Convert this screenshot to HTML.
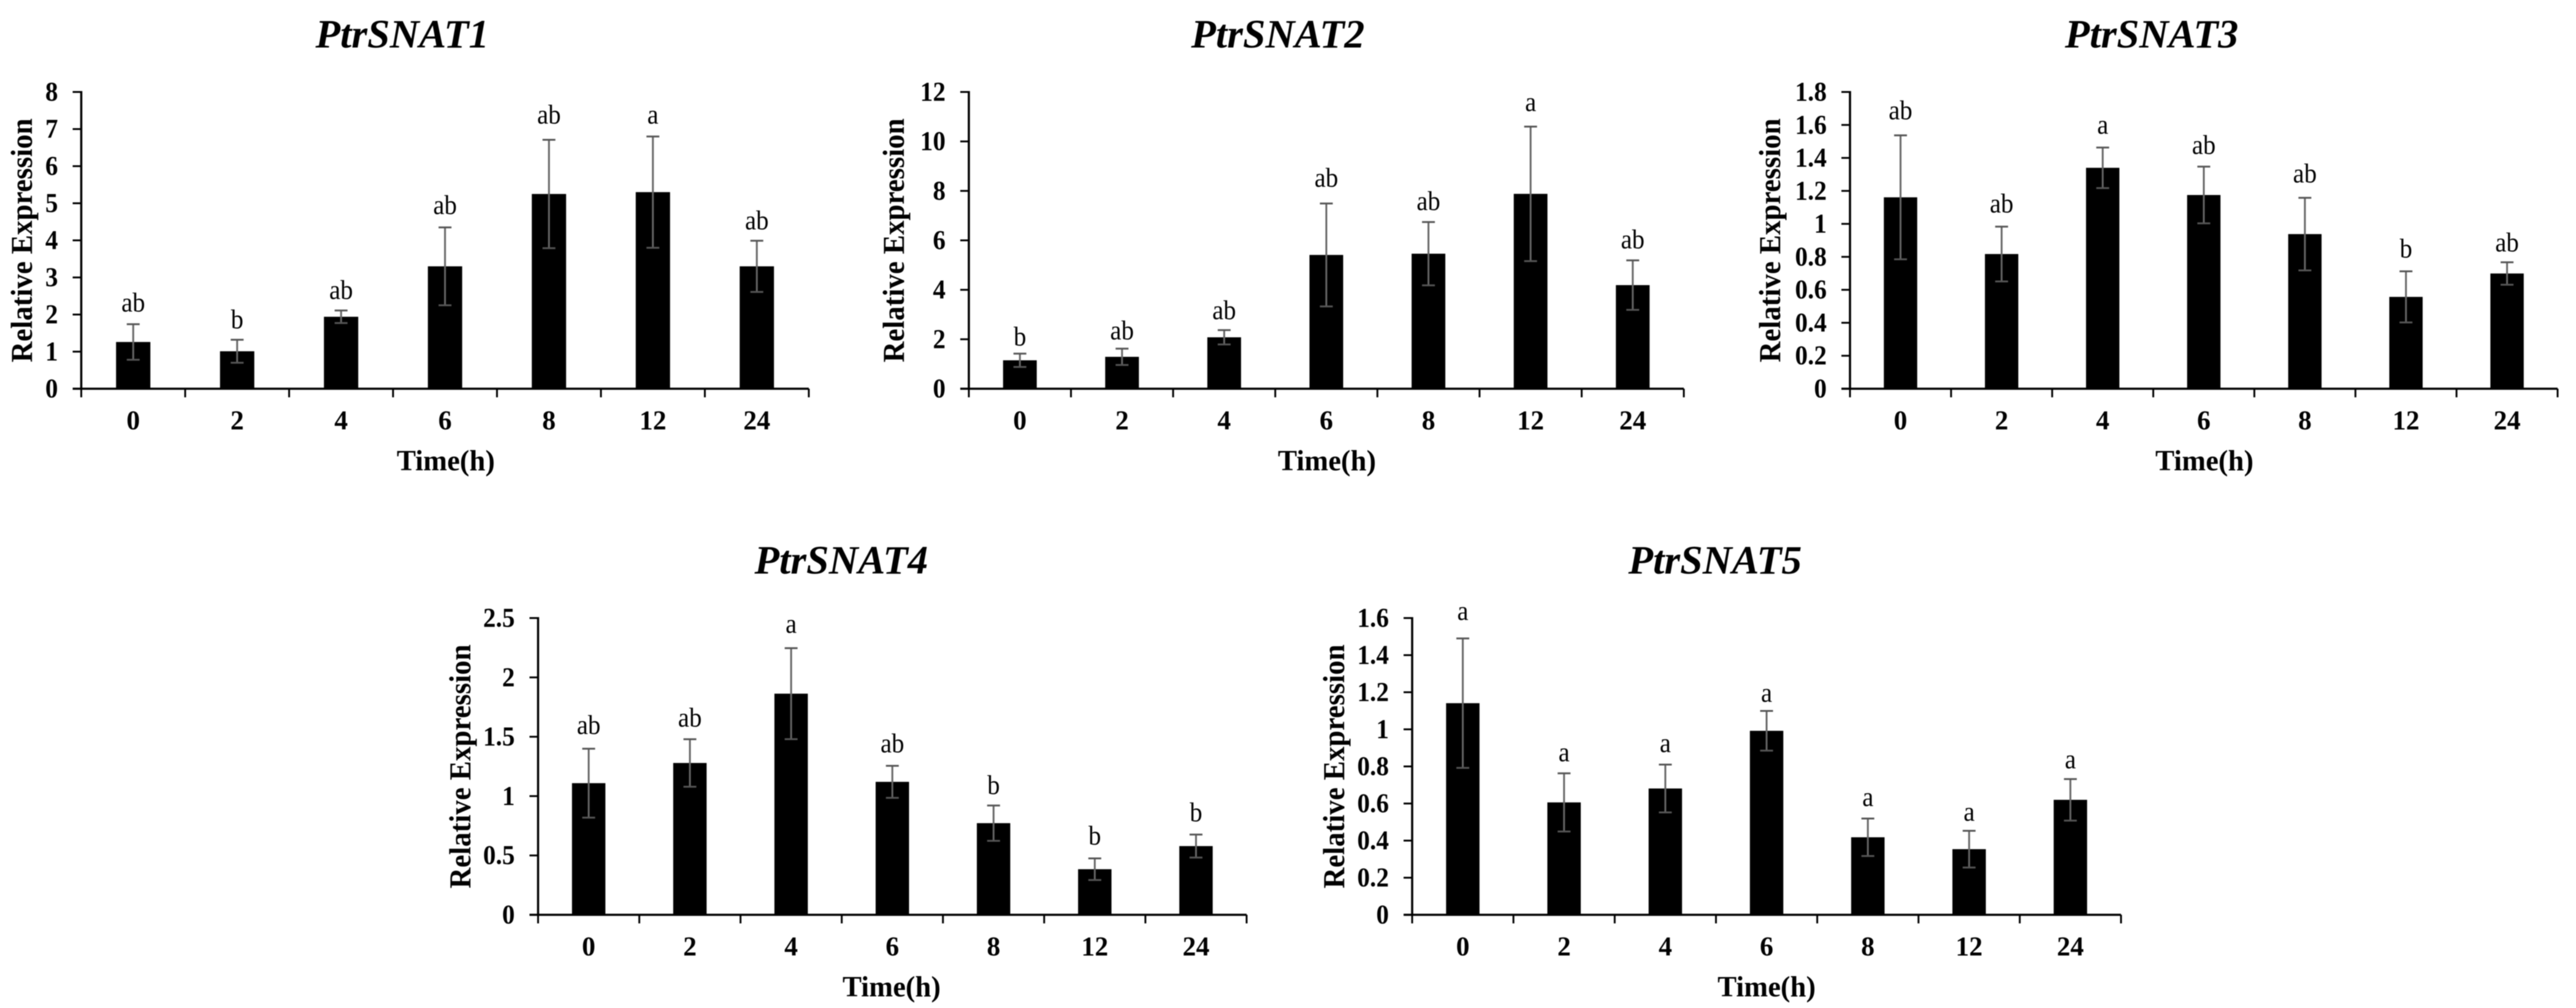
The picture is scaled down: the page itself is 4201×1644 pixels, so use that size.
<!DOCTYPE html>
<html lang="en">
<head>
<meta charset="utf-8">
<title>PtrSNAT relative expression</title>
<style>
html,body{margin:0;padding:0;background:#fff;width:4201px;height:1644px;overflow:hidden}
svg{display:block;filter:blur(0.9px)}
text{font-family:"Liberation Serif",serif;fill:#000}
</style>
</head>
<body>
<svg id="fig" xmlns="http://www.w3.org/2000/svg" width="4201" height="1644" viewBox="0 0 4201 1644"></svg>
<script>
const categories = ["0","2","4","6","8","12","24"];

const snat1Ticks = ["0","1","2","3","4","5","6","7","8"];
const snat1Values = [1.26,1.01,1.94,3.30,5.25,5.30,3.30];
const snat1Errors = [0.48,0.31,0.17,1.05,1.46,1.50,0.69];
const snat1Letters = ["ab","b","ab","ab","ab","a","ab"];
const snat1LetterLift = [0.34,0.31,0.31,0.36,0.44,0.35,0.31];

const snat2Ticks = ["0","2","4","6","8","10","12"];
const snat2Values = [1.15,1.29,2.08,5.41,5.46,7.88,4.19];
const snat2Errors = [0.27,0.33,0.29,2.08,1.28,2.72,1.00];
const snat2Letters = ["b","ab","ab","ab","ab","a","ab"];
const snat2LetterLift = [0.33,0.37,0.44,0.68,0.49,0.63,0.49];

const snat3Ticks = ["0","0.2","0.4","0.6","0.8","1","1.2","1.4","1.6","1.8"];
const snat3Values = [1.161,0.817,1.34,1.175,0.938,0.557,0.699];
const snat3Errors = [0.376,0.166,0.123,0.172,0.22,0.155,0.068];
const snat3Letters = ["ab","ab","a","ab","ab","b","ab"];
const snat3LetterLift = [0.097,0.087,0.085,0.078,0.093,0.083,0.066];

const snat4Ticks = ["0","0.5","1","1.5","2","2.5"];
const snat4Values = [1.109,1.279,1.863,1.12,0.772,0.384,0.579];
const snat4Errors = [0.29,0.2,0.383,0.135,0.149,0.091,0.097];
const snat4Letters = ["ab","ab","a","ab","b","b","b"];
const snat4LetterLift = [0.125,0.107,0.13,0.115,0.097,0.117,0.112];

const snat5Ticks = ["0","0.2","0.4","0.6","0.8","1","1.2","1.4","1.6"];
const snat5Values = [1.141,0.606,0.681,0.992,0.418,0.354,0.62];
const snat5Errors = [0.349,0.157,0.129,0.107,0.101,0.099,0.112];
const snat5Letters = ["a","a","a","a","a","a","a"];
const snat5LetterLift = [0.1,0.065,0.067,0.05,0.068,0.055,0.058];

const NS = "http://www.w3.org/2000/svg";
const fig = document.getElementById("fig");

function shape(parent, tag, name, attrs, content) {
  const el = document.createElementNS(NS, tag);
  for (const k in attrs) el.setAttribute(k, attrs[k]);
  
  
  if (content !== undefined) el.textContent = content;
  parent.appendChild(el);
  return el;
}

function line(parent, name, x1, y1, x2, y2, color, width) {
  return shape(parent, "line", name, {x1, y1, x2, y2, stroke: color, "stroke-width": width});
}

function drawPanel(p) {
  const g = shape(fig, "g", p.id + "-chart", {});
  const yMax = Number(p.ticks[p.ticks.length - 1]);
  const yScale = v => p.y0 - (v / yMax) * (p.y0 - p.yTop);
  const band = (p.xEnd - p.x0) / categories.length;
  const xCenter = i => p.x0 + (i + 0.5) * band;
  const barW = band * 0.33;

  shape(g, "text", p.id + "-title", {x: p.titleX, y: p.titleY + 0.7, "text-anchor": "middle", "font-size": 66, "font-weight": "bold", "font-style": "italic", textLength: 283, lengthAdjust: "spacingAndGlyphs"}, p.title);

  p.values.forEach((v, i) => {
    const top = yScale(v);
    shape(g, "rect", "bar-" + categories[i] + "h", {x: xCenter(i) - barW / 2, y: top, width: barW, height: p.y0 - top, fill: "#000"});
  });

  line(g, "y-axis", p.x0, p.yTop - 1.5, p.x0, p.y0, "#000", 3.5);
  line(g, "x-axis", p.x0 - 14, p.y0, p.xEnd, p.y0, "#000", 3.5);

  p.ticks.forEach(t => {
    const y = yScale(Number(t));
    line(g, "y-tick", p.x0 - 14, y, p.x0, y, "#000", 3);
    shape(g, "text", "y-tick-label", {x: 0, y: 0, transform: "translate(" + (p.x0 - 38) + " " + (y + 14) + ") scale(0.94 1)", "text-anchor": "end", "font-size": 44, "font-weight": "bold"}, t);
  });

  for (let i = 0; i <= categories.length; i++) {
    const x = p.x0 + i * band;
    line(g, "x-tick", x, p.y0, x, p.y0 + 14, "#000", 3);
  }

  categories.forEach((c, i) => {
    shape(g, "text", "x-tick-label", {x: xCenter(i), y: p.y0 + 66, "text-anchor": "middle", "font-size": 44, "font-weight": "bold"}, c);
  });

  p.errors.forEach((e, i) => {
    const cx = xCenter(i), hi = yScale(p.values[i] + e), lo = yScale(p.values[i] - e);
    line(g, "error-bar-stem", cx, hi, cx, lo, "#666", 3);
    line(g, "error-bar-top-cap", cx - 10.5, hi, cx + 10.5, hi, "#555", 3);
    line(g, "error-bar-bottom-cap", cx - 10.5, lo, cx + 10.5, lo, "#555", 3);
    const ly = yScale(p.values[i] + e + p.lift[i]);
    shape(g, "text", "significance-letter", {x: 0, y: 0, transform: "translate(" + cx + " " + ly + ") scale(0.93 1)", "text-anchor": "middle", "font-size": 44}, p.letters[i]);
  });

  shape(g, "text", "x-axis-title", {x: p.xTitleX, y: p.y0 + 133, "text-anchor": "middle", "font-size": 48, "font-weight": "bold", textLength: 160, lengthAdjust: "spacingAndGlyphs"}, "Time(h)");

  const yc = (p.y0 + p.yTop) / 2;
  shape(g, "text", "y-axis-title", {x: 0, y: 0, transform: "translate(" + p.yTitleX + " " + yc + ") rotate(-90)", "text-anchor": "middle", "font-size": 50, "font-weight": "bold", textLength: 398, lengthAdjust: "spacingAndGlyphs"}, "Relative Expression");
}

drawPanel({id: "snat1", title: "PtrSNAT1", ticks: snat1Ticks, values: snat1Values, errors: snat1Errors, letters: snat1Letters, lift: snat1LetterLift,
  x0: 132.5, xEnd: 1319, yTop: 150, y0: 634, titleX: 656, titleY: 77, xTitleX: 727, yTitleX: 52});
drawPanel({id: "snat2", title: "PtrSNAT2", ticks: snat2Ticks, values: snat2Values, errors: snat2Errors, letters: snat2Letters, lift: snat2LetterLift,
  x0: 1580, xEnd: 2746, yTop: 150, y0: 634, titleX: 2084, titleY: 77, xTitleX: 2164, yTitleX: 1474});
drawPanel({id: "snat3", title: "PtrSNAT3", ticks: snat3Ticks, values: snat3Values, errors: snat3Errors, letters: snat3Letters, lift: snat3LetterLift,
  x0: 3017, xEnd: 4171, yTop: 150, y0: 634, titleX: 3509, titleY: 77, xTitleX: 3595, yTitleX: 2903});
drawPanel({id: "snat4", title: "PtrSNAT4", ticks: snat4Ticks, values: snat4Values, errors: snat4Errors, letters: snat4Letters, lift: snat4LetterLift,
  x0: 877.5, xEnd: 2033, yTop: 1008, y0: 1492, titleX: 1372, titleY: 935, xTitleX: 1454, yTitleX: 767});
drawPanel({id: "snat5", title: "PtrSNAT5", ticks: snat5Ticks, values: snat5Values, errors: snat5Errors, letters: snat5Letters, lift: snat5LetterLift,
  x0: 2303, xEnd: 3459, yTop: 1008, y0: 1492, titleX: 2797, titleY: 935, xTitleX: 2881, yTitleX: 2192});
</script>
</body>
</html>
